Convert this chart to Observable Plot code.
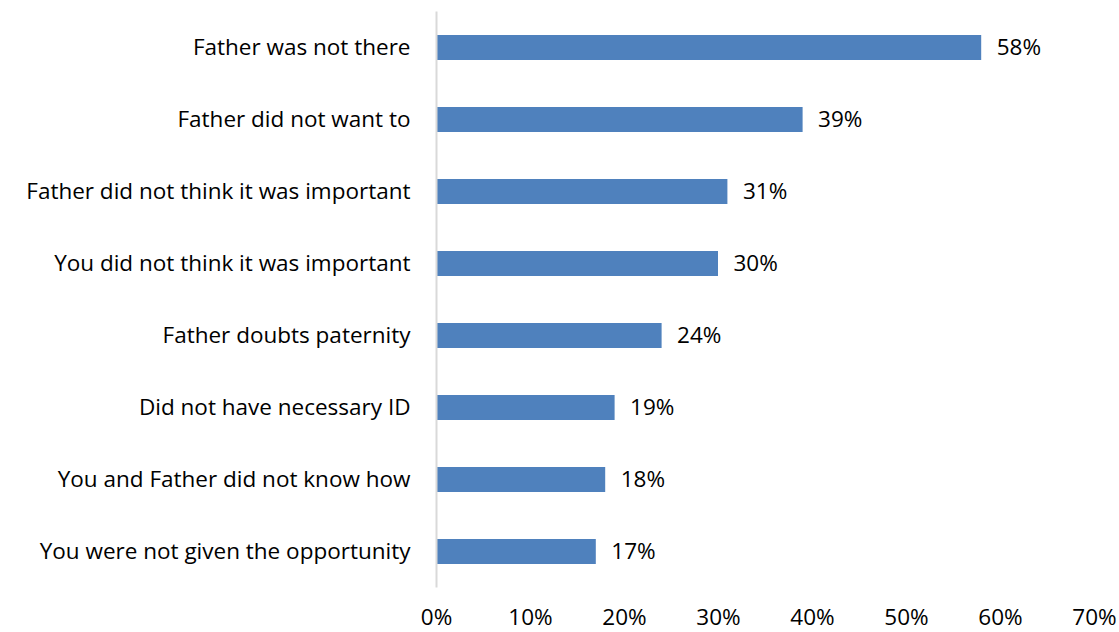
<!DOCTYPE html>
<html>
<head>
<meta charset="utf-8">
<script src="https://cdn.jsdelivr.net/npm/d3@7"></script>
<script src="https://cdn.jsdelivr.net/npm/@observablehq/plot@0.6"></script>
<style>
  html, body { margin: 0; padding: 0; background: #fff; }
  svg { display: block; }
</style>
</head>
<body>
<div id="chart"></div>
<script>
const reasons = [
  "Father was not there",
  "Father did not want to",
  "Father did not think it was important",
  "You did not think it was important",
  "Father doubts paternity",
  "Did not have necessary ID",
  "You and Father did not know how",
  "You were not given the opportunity"
];
const shares = [0.58, 0.39, 0.31, 0.30, 0.24, 0.19, 0.18, 0.17];
const xTicks = [0, 0.1, 0.2, 0.3, 0.4, 0.5, 0.6, 0.7];

const data = reasons.map((r, i) => ({reason: r, value: shares[i]}));
const pct = d3.format(".0%");

const chart = Plot.plot({
  width: 1119,
  height: 632,
  marginLeft: 436,
  marginRight: 25,
  marginTop: 11.5,
  marginBottom: 44.5,
  style: {fontFamily: "'Open Sans', sans-serif", fontSize: "22.5px", color: "#000", background: "#fff"},
  x: {domain: [0, 0.7], ticks: xTicks, tickFormat: pct, tickSize: 0, tickPadding: 21, label: null},
  y: {domain: reasons, paddingInner: 0.65, paddingOuter: 0.325, tickSize: 0, tickPadding: 26, label: null},
  marks: [
    Plot.barX(data, {x: "value", y: "reason", fill: "#4f81bd"}),
    Plot.ruleX([0], {stroke: "#d9d9d9", strokeWidth: 2}),
    Plot.text(data, {x: "value", y: "reason", text: d => pct(d.value), textAnchor: "start", dx: 15, fill: "#000", fontSize: 22.5})
  ]
});
document.getElementById("chart").appendChild(chart);
</script>
</body>
</html>
